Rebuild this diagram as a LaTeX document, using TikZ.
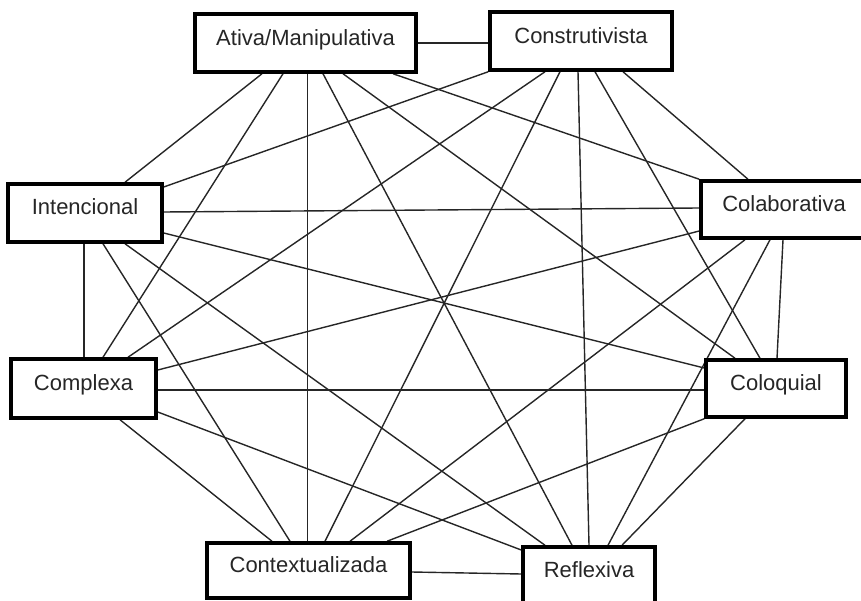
\documentclass[tikz,border=0pt]{standalone}
\usepackage{fontspec}
\setmainfont{Liberation Sans}
\usetikzlibrary{backgrounds}
\begin{document}
\begin{tikzpicture}[x=1pt,y=-1pt,
  box/.style={draw=black, line width=3.5pt, fill=white, inner sep=0pt},
  lbl/.style={font=\fontsize{22}{26}\selectfont, inner sep=0pt,
              text height=15.8pt, text depth=0pt, text=black!85},
  link/.style={line width=1.4pt, draw=black!85}]
\useasboundingbox (0,0) rectangle (861,601);

% the eight boxes
\node[box, minimum width=221pt, minimum height=58pt] (A) at (305.5,43) {};
\node[box, minimum width=182pt, minimum height=58pt] (B) at (581,41) {};
\node[box, minimum width=154pt, minimum height=58pt] (C) at (85,213) {};
\node[box, minimum width=164pt, minimum height=57pt] (D) at (783,209.5) {};
\node[box, minimum width=145pt, minimum height=59pt] (E) at (83.5,388.5) {};
\node[box, minimum width=140pt, minimum height=57pt] (F) at (776,388.5) {};
\node[box, minimum width=203pt, minimum height=55pt] (G) at (308.5,570.5) {};
\node[box, minimum width=132pt, minimum height=56pt] (H) at (589,575) {};

% their titles
\node[lbl] (A-t) at ([yshift=5.5pt]A.center) {Ativa/Manipulativa};
\node[lbl] (B-t) at ([yshift=5.5pt]B.center) {Construtivista};
\node[lbl] (C-t) at ([yshift=6pt]C.center) {Intencional};
\node[lbl] (D-t) at ([xshift=1pt,yshift=6pt]D.center) {Colaborativa};
\node[lbl] (E-t) at ([yshift=5.5pt]E.center) {Complexa};
\node[lbl] (F-t) at ([yshift=6pt]F.center) {Coloquial};
\node[lbl] (G-t) at ([yshift=5.5pt]G.center) {Contextualizada};
\node[lbl] (H-t) at ([yshift=5pt]H.center) {Reflexiva};

% every box is joined to every other one
\begin{scope}[on background layer]
  % Ativa/Manipulativa
  \draw[link] (A.east) -- (A.east -| B.west);
  \draw[link] ([xshift=-43.5pt]A.south) -- ([xshift=40pt]C.north);
  \draw[link] ([xshift=-22.5pt]A.south) -- ([xshift=19.5pt]E.north);
  \draw[link] ([xshift=2pt]A.south) -- ([xshift=-1pt]G.north);
  \draw[link] ([xshift=17.5pt]A.south) -- ([xshift=-17pt]H.north);
  \draw[link] ([xshift=37.5pt]A.south) -- ([xshift=-41pt]F.north);
  \draw[link] ([xshift=87.5pt]A.south) -- (D.north west);
  % Construtivista
  \draw[link] (B.south west) -- ([yshift=26pt]C.east);
  \draw[link] ([xshift=-36pt]B.south) -- ([xshift=44.5pt]E.north);
  \draw[link] ([xshift=-21pt]B.south) -- ([xshift=16.5pt]G.north);
  \draw[link] ([xshift=-3pt]B.south) -- (H.north);
  \draw[link] ([xshift=14pt]B.south) -- ([xshift=-16pt]F.north);
  \draw[link] ([xshift=42pt]B.south) -- ([xshift=-35pt]D.north);
  % Intencional
  \draw[link] ([yshift=1pt]C.east) -- ([yshift=1.5pt]D.west);
  \draw[link] ([xshift=-1pt]C.south) -- ([xshift=0.5pt]E.north);
  \draw[link] ([yshift=-20pt]C.east) -- ([yshift=20.5pt]F.west);
  \draw[link] ([xshift=18pt]C.south) -- ([xshift=-18.5pt]G.north);
  \draw[link] ([xshift=40pt]C.south) -- ([xshift=-44pt]H.north);
  % Colaborativa
  \draw[link] ([yshift=-21.5pt]D.west) -- ([yshift=18.5pt]E.east);
  \draw[link] (D.south) -- ([xshift=1pt]F.north);
  \draw[link] ([xshift=-38pt]D.south) -- ([xshift=41.5pt]G.north);
  \draw[link] ([xshift=-13pt]D.south) -- ([xshift=19pt]H.north);
  % Complexa
  \draw[link] ([yshift=-1.5pt]E.east) -- ([yshift=-1.5pt]F.west);
  \draw[link] ([xshift=36.5pt]E.south) -- ([xshift=-36.5pt]G.north);
  \draw[link] ([yshift=-23.5pt]E.east) -- ([yshift=25pt]H.west);
  % Coloquial
  \draw[link] (F.south west) -- ([xshift=78.5pt]G.north);
  \draw[link] ([xshift=-31pt]F.south) -- ([xshift=33pt]H.north);
  % Contextualizada
  \draw[link] ([yshift=-1.5pt]G.east) -- ([yshift=1pt]H.west);
\end{scope}
\end{tikzpicture}
\end{document}
